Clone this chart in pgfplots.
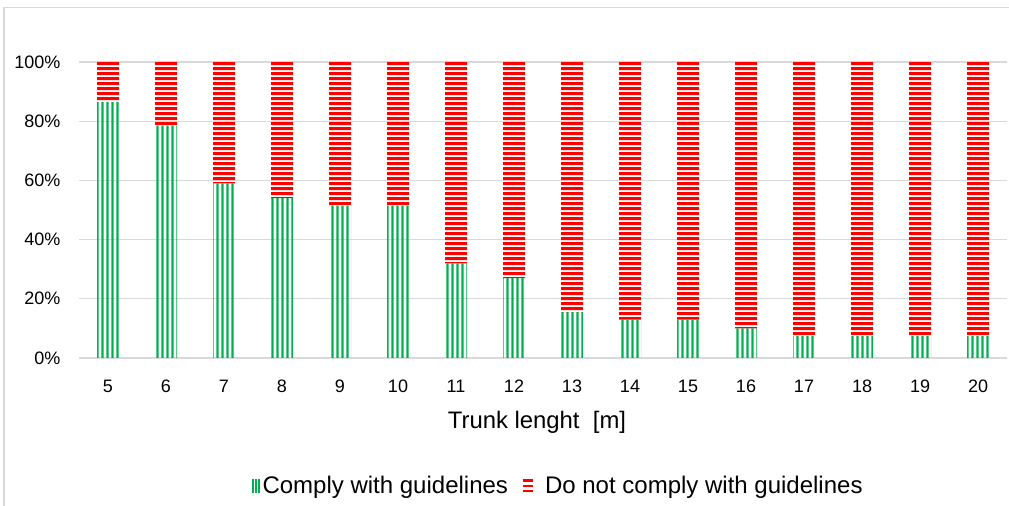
\documentclass[border=0pt]{standalone}
\usepackage{fontspec}
\setmainfont{Liberation Sans}
\usepackage{pgfplots}
\pgfplotsset{compat=1.18}
\usetikzlibrary{patterns}
\definecolor{okgreen}{RGB}{0,176,80}
\definecolor{nored}{RGB}{255,0,0}
\definecolor{gridgrey}{RGB}{217,217,217}

% wide tiles so that tile seams fall outside the bars
\pgfdeclarepatternformonly{gstripes}{\pgfpointorigin}{\pgfpoint{3.625pt}{400pt}}{\pgfpoint{3.625pt}{400pt}}{
  \pgfpathrectangle{\pgfpoint{0.25pt}{0pt}}{\pgfpoint{1.75pt}{400pt}}\pgfusepath{fill}}
\pgfdeclarepatternformonly{rstripes}{\pgfpointorigin}{\pgfpoint{800pt}{4pt}}{\pgfpoint{800pt}{4pt}}{
  \pgfpathrectangle{\pgfpoint{0pt}{0.75pt}}{\pgfpoint{800pt}{2.5pt}}\pgfusepath{fill}}

\begin{document}
\begin{tikzpicture}
\useasboundingbox (0,0) rectangle (756.75pt,379.5pt);
\draw[gridgrey, line width=0.8pt] (3pt,0pt) -- (3pt,374pt) -- (756.75pt,374pt);
\begin{axis}[
    at={(59.25pt,111pt)}, anchor=south west,
    scale only axis,
    width=696pt, height=222pt,
    ybar stacked, bar width=16.5pt,
    xmin=4.5, xmax=20.5, ymin=0, ymax=100,
    xtick={5,...,20}, ytick={0,20,...,100},
    yticklabel={\pgfmathprintnumber{\tick}\%},
    /pgf/number format/assume math mode=true,
    ymajorgrids, grid style={gridgrey, line width=0.9pt},
    axis line style={draw=none}, tick style={draw=none},
    ticklabel style={font=\fontsize{13.5}{16}\selectfont},
    yticklabel style={xshift=-10.5pt},
    xticklabel style={yshift=-13pt},
    xlabel={Trunk lenght\ \ [m]},
    xlabel style={font=\fontsize{17.9}{20}\selectfont, at={(axis description cs:0.4935,-0.216)}, anchor=center},
    legend style={at={(0.517,-0.432)}, anchor=center, draw=none, fill=none,
        font=\fontsize{18}{20}\selectfont, legend columns=2,
        /tikz/every even column/.append style={column sep=8pt}},
]
\addplot[draw=none, pattern=gstripes, pattern color=okgreen,
    legend image code/.code={
        \draw[okgreen, line width=1.1pt] (0.6pt,-5.5pt) -- (0.6pt,5.5pt);
        \draw[okgreen, line width=1.1pt] (2.9pt,-5.5pt) -- (2.9pt,5.5pt);
        \draw[okgreen, line width=1.1pt] (5.2pt,-5.5pt) -- (5.2pt,5.5pt);}]
coordinates {
(5,86.5) (6,78.5) (7,59) (8,54) (9,51.5) (10,51.5) (11,32) (12,27)
(13,15.5) (14,13) (15,13) (16,10) (17,7.5) (18,7.5) (19,7.5) (20,7.5)
};
\addlegendentry{Comply with guidelines}
\addplot[draw=none, pattern=rstripes, pattern color=nored,
    legend image code/.code={
        \draw[nored, line width=1.8pt] (0pt,-4pt) -- (8pt,-4pt);
        \draw[nored, line width=1.8pt] (0pt,0pt) -- (8pt,0pt);
        \draw[nored, line width=1.8pt] (0pt,4pt) -- (8pt,4pt);}]
coordinates {
(5,13.5) (6,21.5) (7,41) (8,46) (9,48.5) (10,48.5) (11,68) (12,73)
(13,84.5) (14,87) (15,87) (16,90) (17,92.5) (18,92.5) (19,92.5) (20,92.5)
};
\addlegendentry{\hspace{6pt}Do not comply with guidelines}
\end{axis}
\end{tikzpicture}
\end{document}
